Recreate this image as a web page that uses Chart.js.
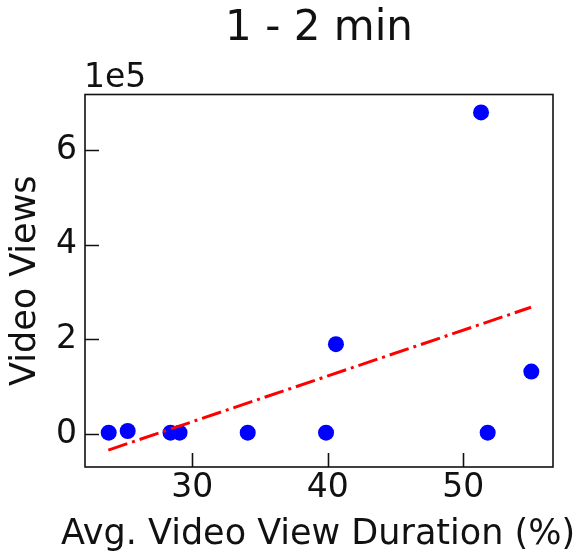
<!DOCTYPE html>
<html>
<head>
<meta charset="utf-8">
<script src="https://cdn.jsdelivr.net/npm/chart.js@4"></script>
<style>
  html, body { margin: 0; padding: 0; background: #ffffff; }
  canvas { display: block; }
</style>
</head>
<body>
<canvas id="chart" width="576" height="552"></canvas>
<script>
// Text
const chartTitle = '1 - 2 min';
const xAxisLabel = 'Avg. Video View Duration (%)';
const yAxisLabel = 'Video Views';

// Videos of 1 - 2 minutes: average view duration (%) and view counts
const avgViewDuration = [23.83, 25.23, 28.39, 29.06, 34.09, 39.87, 40.60, 51.31, 51.80, 55.02];
const videoViews      = [2800, 6300, 2800, 2800, 2800, 2800, 190000, 680000, 2800, 132000];

// Linear trend line end points
const trendDuration = [23.8, 55.0];
const trendViews    = [-34000, 268000];

// Axis ticks and limits
const xTicks = [30, 40, 50];
const yTicks = [0, 200000, 400000, 600000];
const xLimits = [22.08, 56.62];
const yLimits = [-69800, 718000];
const yExponent = 5;

const FONT = 'DejaVu Sans';
const INK = '#111111';
const TICK_SIZE = 33;
const LABEL_SIZE = 35;
const TITLE_SIZE = 42;

Chart.defaults.font.family = FONT;
Chart.defaults.color = INK;

// Frame around the plot area, inward tick marks, the axis offset text and
// the x-axis label (allowed to run wider than the plot area)
const framePlugin = {
  id: 'frame',
  afterDraw(chart) {
    const { ctx, chartArea: a, scales } = chart;
    const tickLen = 14;
    ctx.save();
    ctx.strokeStyle = INK;
    ctx.lineWidth = 1.6;
    ctx.beginPath();
    for (const v of xTicks) {
      const px = Math.round(scales.x.getPixelForValue(v)) + 0.5;
      ctx.moveTo(px, a.bottom);
      ctx.lineTo(px, a.bottom - tickLen);
    }
    for (const v of yTicks) {
      const py = Math.round(scales.y.getPixelForValue(v)) + 0.5;
      ctx.moveTo(a.left, py);
      ctx.lineTo(a.left + tickLen, py);
    }
    ctx.stroke();
    ctx.strokeRect(a.left, a.top, a.right - a.left, a.bottom - a.top);

    ctx.fillStyle = INK;
    ctx.font = TICK_SIZE + 'px "' + FONT + '"';
    ctx.textAlign = 'left';
    ctx.textBaseline = 'alphabetic';
    ctx.fillText('1e' + yExponent, a.left - 1, a.top - 7.5);

    ctx.font = LABEL_SIZE + 'px "' + FONT + '"';
    ctx.textAlign = 'center';
    ctx.fillText(xAxisLabel, (a.left + a.right) / 2 - 1, 544);
    ctx.restore();
  }
};

const points = avgViewDuration.map((x, i) => ({ x, y: videoViews[i] }));
const trend = trendDuration.map((x, i) => ({ x, y: trendViews[i] }));

new Chart(document.getElementById('chart'), {
  type: 'scatter',
  data: {
    datasets: [
      {
        type: 'line',
        data: trend,
        order: 0,
        borderColor: '#ff0000',
        borderWidth: 3,
        borderDash: [20, 5, 3, 5],
        pointRadius: 0,
        fill: false,
        tension: 0
      },
      {
        data: points,
        order: 1,
        backgroundColor: '#0000ff',
        borderWidth: 0,
        pointRadius: 8,
        pointHoverRadius: 8
      }
    ]
  },
  options: {
    responsive: false,
    animation: false,
    devicePixelRatio: 1,
    layout: { padding: { left: 0, right: 23, top: 0, bottom: 0 } },
    plugins: {
      legend: { display: false },
      tooltip: { enabled: false },
      title: {
        display: true,
        fullSize: false,
        text: chartTitle,
        color: INK,
        font: { family: FONT, size: TITLE_SIZE, weight: 'normal', lineHeight: 1 },
        padding: { top: 8.5, bottom: 44 }
      }
    },
    scales: {
      x: {
        type: 'linear',
        min: xLimits[0],
        max: xLimits[1],
        afterBuildTicks: (s) => { s.ticks = xTicks.map(v => ({ value: v })); },
        afterFit: (s) => { s.height = 85; },
        grid: { display: false, drawTicks: false },
        border: { display: false },
        ticks: {
          font: { family: FONT, size: TICK_SIZE, lineHeight: 1 },
          color: INK,
          padding: 5,
          maxRotation: 0
        },
        title: { display: false, text: xAxisLabel }
      },
      y: {
        type: 'linear',
        min: yLimits[0],
        max: yLimits[1],
        afterBuildTicks: (s) => { s.ticks = yTicks.map(v => ({ value: v })); },
        afterFit: (s) => { s.width = 85; },
        grid: { display: false, drawTicks: false },
        border: { display: false },
        ticks: {
          font: { family: FONT, size: TICK_SIZE, lineHeight: 1 },
          color: INK,
          padding: 8,
          callback: (v) => String(Math.round(v / Math.pow(10, yExponent)))
        },
        title: {
          display: true,
          text: yAxisLabel,
          color: INK,
          font: { family: FONT, size: LABEL_SIZE, lineHeight: 1 },
          padding: { top: 8, bottom: 0 }
        }
      }
    }
  },
  plugins: [framePlugin]
});
</script>
</body>
</html>
